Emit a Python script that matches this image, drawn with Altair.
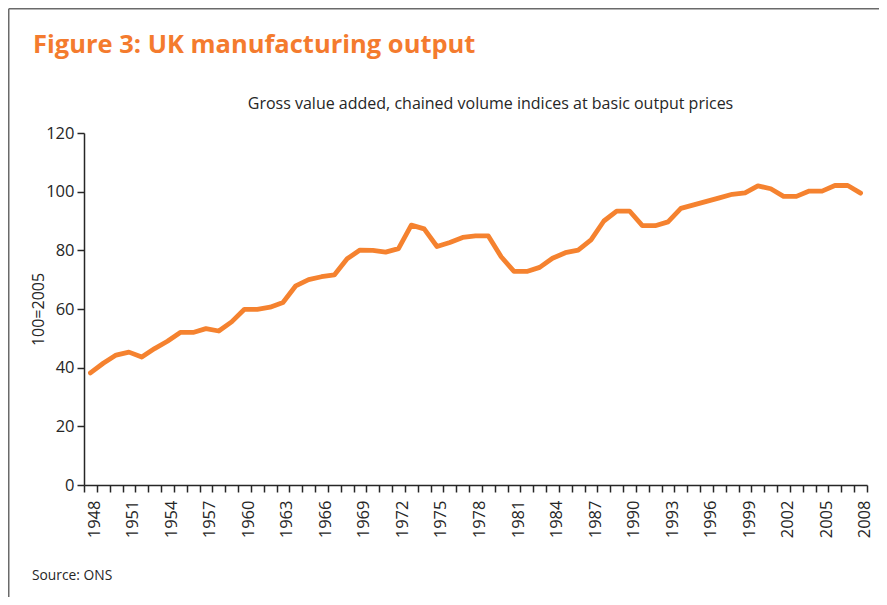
import altair as alt
import pandas as pd

# ---- data -------------------------------------------------------------
years = list(range(1948, 2009))
output_index = [
    38.2, 41.5, 44.3, 45.3, 43.6, 46.5, 49.0, 52.0, 52.0, 53.3,   # 1948-1957
    52.5, 55.6, 59.9, 59.9, 60.6, 62.2, 67.9, 70.0, 71.0, 71.6,   # 1958-1967
    77.1, 80.1, 80.0, 79.4, 80.6, 88.6, 87.3, 81.3, 82.7, 84.4,   # 1968-1977
    84.9, 84.9, 77.8, 72.8, 72.8, 74.2, 77.3, 79.2, 80.1, 83.6,   # 1978-1987
    90.0, 93.4, 93.4, 88.4, 88.4, 89.7, 94.3, 95.5, 96.7, 97.9,   # 1988-1997
    99.1, 99.6, 102.0, 101.0, 98.4, 98.4, 100.2, 100.2, 102.1, 102.1,  # 1998-2007
    99.5,                                                         # 2008
]
y_ticks = [0, 20, 40, 60, 80, 100, 120]
title_text = ["Figure 3: UK manufacturing output"]
subtitle_text = ["Gross value added, chained volume indices at basic output prices"]
source_text = ["Source: ONS"]
y_title = "100=2005"

df = pd.DataFrame({"year": years, "index": output_index})

# ---- style -------------------------------------------------------------
LINE_ORANGE = "#F5822F"
TITLE_ORANGE = "#F47B2E"
INK = "#262626"
FONT = "Open Sans"
W, H = 783, 352
PAD = {"left": 76, "top": 125, "right": 12, "bottom": 112}

line = alt.Chart(df).mark_line(
    color=LINE_ORANGE, strokeWidth=4.8, strokeCap="round", strokeJoin="round"
).encode(
    x=alt.X(
        "year:O",
        scale=alt.Scale(type="band", paddingInner=0, paddingOuter=0),
        axis=alt.Axis(
            title=None,
            labelAngle=-90,
            tickBand="extent",
            labelExpr="(datum.value - 1948) % 3 == 0 ? datum.label : ''",
            labelOverlap=False,
            labelOffset=4,
            tickSize=7,
            labelPadding=8,
            labelFontSize=16.5,
            labelFont=FONT,
            labelColor=INK,
            domainColor=INK,
            tickColor=INK,
            domainWidth=1.5,
            tickWidth=1.5,
            grid=False,
        ),
    ),
    y=alt.Y(
        "index:Q",
        scale=alt.Scale(domain=[0, 120], nice=False, zero=True),
        axis=alt.Axis(
            values=y_ticks,
            title=y_title,
            titleFont=FONT,
            titleFontSize=16,
            titleFontWeight="normal",
            titleColor=INK,
            titleAngle=-90,
            titleX=-40.5,
            titleY=H / 2,
            titleAlign="center",
            titleBaseline="alphabetic",
            tickSize=7,
            labelPadding=3,
            labelFontSize=16.5,
            labelFont=FONT,
            labelColor=INK,
            domainColor=INK,
            tickColor=INK,
            domainWidth=1.5,
            tickWidth=1.5,
            grid=False,
        ),
    ),
)

one = pd.DataFrame({"a": [0]})

title = alt.Chart(pd.DataFrame({"t": title_text})).mark_text(
    font=FONT, fontSize=25.5, fontWeight="bold", color=TITLE_ORANGE,
    align="left", baseline="alphabetic",
).encode(text="t:N", x=alt.value(-51), y=alt.value(-80))

subtitle = alt.Chart(pd.DataFrame({"t": subtitle_text})).mark_text(
    font=FONT, fontSize=16, color=INK, align="center", baseline="alphabetic",
).encode(text="t:N", x=alt.value(406.5), y=alt.value(-24.3))

source = alt.Chart(pd.DataFrame({"t": source_text})).mark_text(
    font=FONT, fontSize=13.8, color=INK, align="left", baseline="alphabetic",
).encode(text="t:N", x=alt.value(-52), y=alt.value(446.7))

frame_top = alt.Chart(one).mark_rule(color="#6a6a6a", strokeWidth=1.5).encode(
    x=alt.value(-PAD["left"] + 0.75), x2=alt.value(W + PAD["right"]), y=alt.value(-PAD["top"] + 0.75)
)
frame_left = alt.Chart(one).mark_rule(color="#6a6a6a", strokeWidth=1.5).encode(
    x=alt.value(-PAD["left"] + 0.75), y=alt.value(-PAD["top"] + 0.75), y2=alt.value(H + PAD["bottom"])
)

chart = alt.layer(line, title, subtitle, source, frame_top, frame_left).properties(
    width=W,
    height=H,
    padding=PAD,
    autosize=alt.AutoSizeParams(type="none"),
    background="white",
).configure_view(stroke=None)

chart.save("out.html", embed_options={"renderer": "svg", "actions": False})
